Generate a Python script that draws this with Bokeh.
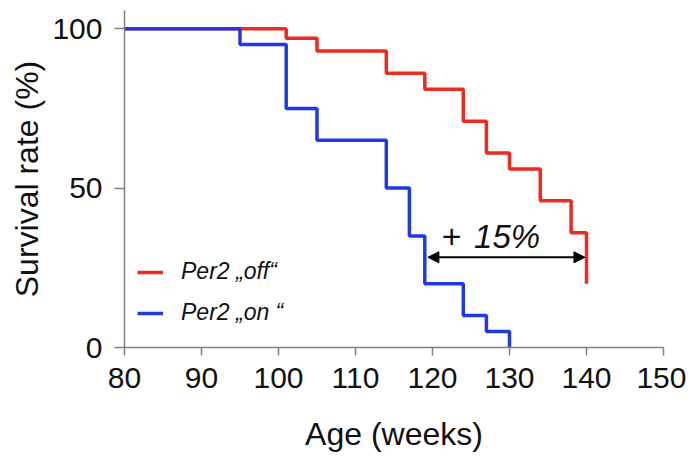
from bokeh.plotting import figure
from bokeh.models import Range1d, Legend, LegendItem, Arrow, NormalHead, Label, FixedTicker
from bokeh.embed import file_html
from bokeh.resources import INLINE

# Data (Kaplan-Meier style survival)
off_age = [80, 101, 105, 114, 119, 124, 127, 130, 134, 138, 140]
off_surv = [100, 97, 93, 86, 81, 71, 61, 56, 46, 36, 20]
on_age = [80, 95, 101, 105, 114, 117, 119, 124, 127, 130]
on_surv = [100, 95, 75, 65, 50, 35, 20, 10, 5, 0]
x_ticks = [80, 90, 100, 110, 120, 130, 140, 150]
y_ticks = [0, 50, 100]
labels = ["Per2 \u201eoff\u201c", "Per2 \u201eon \u201c"]
arrow_from, arrow_to, arrow_level = 119.4, 139.8, 28.3
gain_text = "15%"

FONT = "Liberation Sans"
RED = "#ee2a1e"
BLUE = "#1f3be0"
AX = "#808080"

p = figure(frame_width=539, frame_height=337, output_backend="svg",
           toolbar_location=None, x_range=Range1d(80, 150), y_range=Range1d(0, 105.7),
           min_border_left=124, min_border_top=10, min_border_right=23, min_border_bottom=95)
p.outline_line_color = None
p.grid.visible = False
p.background_fill_color = "white"

r_off = p.step(off_age, off_surv, mode="after", line_color=RED, line_width=3.5)
r_on = p.step(on_age, on_surv, mode="after", line_color=BLUE, line_width=3.5)

for ax in (p.xaxis[0], p.yaxis[0]):
    ax.axis_line_color = AX
    ax.axis_line_width = 1.5
    ax.major_tick_line_color = AX
    ax.major_tick_line_width = 1.5
    ax.major_tick_in = 0
    ax.minor_tick_line_color = None
    ax.major_label_text_font = FONT
    ax.major_label_text_font_size = "30px"
    ax.major_label_text_color = "#111111"
    ax.axis_label_text_font = FONT
    ax.axis_label_text_font_size = "32px"
    ax.axis_label_text_font_style = "normal"
    ax.axis_label_text_color = "#111111"

p.xaxis.ticker = FixedTicker(ticks=x_ticks)
p.yaxis.ticker = FixedTicker(ticks=y_ticks)
p.xaxis.major_tick_out = 8
p.yaxis.major_tick_out = 10
p.xaxis.major_label_standoff = 12
p.yaxis.major_label_standoff = 12
p.xaxis.axis_label = "Age (weeks)"
p.yaxis.axis_label = "Survival rate (%)"
p.xaxis.axis_label_standoff = 25
p.yaxis.axis_label_standoff = 4

legend = Legend(items=[LegendItem(label=labels[0], renderers=[r_off]),
                       LegendItem(label=labels[1], renderers=[r_on])],
                location=(13, 21), padding=0, margin=0, spacing=14,
                glyph_width=26, glyph_height=20, label_height=20, label_standoff=18,
                label_text_font=FONT, label_text_font_size="23px",
                label_text_font_style="italic", label_text_color="#111111",
                border_line_alpha=0, background_fill_alpha=0)
p.add_layout(legend)

p.add_layout(Arrow(x_start=arrow_from, x_end=arrow_to, y_start=arrow_level, y_end=arrow_level,
                   line_color="black", line_width=2,
                   start=NormalHead(size=11, fill_color="black", line_color="black"),
                   end=NormalHead(size=11, fill_color="black", line_color="black")))
p.add_layout(Label(x=121.2, y=34.9, text="+", text_font=FONT, text_font_size="34px",
                   text_color="#111111", text_baseline="alphabetic"))
p.add_layout(Label(x=125.4, y=34.9, text=gain_text, text_font=FONT, text_font_size="33px",
                   text_font_style="italic", text_color="#111111", text_baseline="alphabetic"))

open("out.html", "w").write(file_html(p, INLINE))
